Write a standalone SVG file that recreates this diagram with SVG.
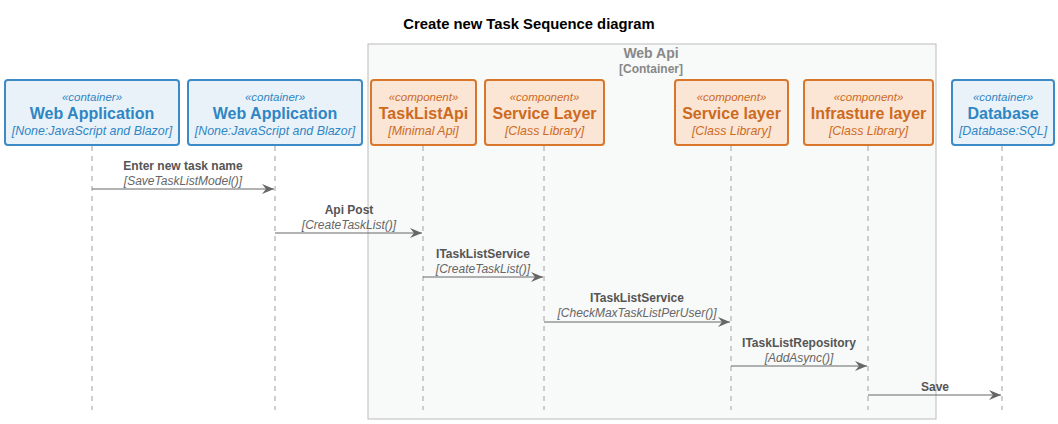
<svg xmlns="http://www.w3.org/2000/svg" width="1058" height="424" viewBox="0 0 1058 424">
<style>
text{font-family:"Liberation Sans",Arial,sans-serif;text-anchor:middle}
.title{font-size:14.8px;font-weight:bold;fill:#000}
.bl{font-size:14px;font-weight:bold;fill:#888}
.bs{font-size:12px;font-weight:bold;fill:#888}
.cont rect{fill:#EAF2F9;stroke:#3C8AC6;stroke-width:2}
.cont text{fill:#2E86C4}
.comp rect{fill:#FBE6D6;stroke:#D8772B;stroke-width:2}
.comp text{fill:#CD6A1E}
.st{font-size:11.5px;font-style:italic}
.nm{font-size:16px;font-weight:bold}
.tc{font-size:12.4px;font-style:italic}
.life{stroke:#A0A0A0;stroke-width:1;stroke-dasharray:5,5}
.msg{stroke:#666;stroke-width:1;fill:none}
.ml{font-size:12px;font-weight:bold;fill:#555}
.mt{font-size:12px;font-style:italic;fill:#666}
</style>
<defs>
<marker id="ah" markerWidth="13" markerHeight="10" refX="12" refY="5" orient="auto" markerUnits="userSpaceOnUse">
<path d="M0,0 L12,5 L0,10 L4,5 Z" fill="#666"/>
</marker>
</defs>
<rect width="1058" height="424" fill="#fff"/>
<text class="title" x="529" y="29">Create new Task Sequence diagram</text>
<g id="boundary">
<rect x="368" y="44" width="568" height="375" fill="#F8F9F9" stroke="#BBBBBB" stroke-width="1"/>
<text class="bl" x="651" y="58">Web Api</text>
<text class="bs" x="651" y="73">[Container]</text>
</g>
<g id="lifelines">
<line class="life" x1="92" y1="146" x2="92" y2="410"/>
<line class="life" x1="275" y1="146" x2="275" y2="410"/>
<line class="life" x1="423" y1="146" x2="423" y2="410"/>
<line class="life" x1="544" y1="146" x2="544" y2="410"/>
<line class="life" x1="731" y1="146" x2="731" y2="410"/>
<line class="life" x1="868" y1="146" x2="868" y2="410"/>
<line class="life" x1="1002" y1="146" x2="1002" y2="410"/>
</g>
<g id="webapp1" class="cont">
<rect x="5" y="80" width="174" height="65" rx="3"/>
<text class="st" x="92" y="101">«container»</text>
<text class="nm" x="92" y="119">Web Application</text>
<text class="tc" x="92" y="135">[None:JavaScript and Blazor]</text>
</g>
<g id="webapp2" class="cont">
<rect x="188" y="80" width="174" height="65" rx="3"/>
<text class="st" x="275" y="101">«container»</text>
<text class="nm" x="275" y="119">Web Application</text>
<text class="tc" x="275" y="135">[None:JavaScript and Blazor]</text>
</g>
<g id="tasklistapi" class="comp">
<rect x="371" y="80" width="105" height="65" rx="3"/>
<text class="st" x="423.5" y="101">«component»</text>
<text class="nm" x="423.5" y="119">TaskListApi</text>
<text class="tc" x="423.5" y="135">[Minimal Api]</text>
</g>
<g id="servicelayer1" class="comp">
<rect x="485" y="80" width="119" height="65" rx="3"/>
<text class="st" x="544.5" y="101">«component»</text>
<text class="nm" x="544.5" y="119">Service Layer</text>
<text class="tc" x="544.5" y="135">[Class Library]</text>
</g>
<g id="servicelayer2" class="comp">
<rect x="675" y="80" width="113" height="65" rx="3"/>
<text class="st" x="731.5" y="101">«component»</text>
<text class="nm" x="731.5" y="119">Service layer</text>
<text class="tc" x="731.5" y="135">[Class Library]</text>
</g>
<g id="infrastructure" class="comp">
<rect x="804" y="80" width="129" height="65" rx="3"/>
<text class="st" x="868.5" y="101">«component»</text>
<text class="nm" x="868.5" y="119">Infrasture layer</text>
<text class="tc" x="868.5" y="135">[Class Library]</text>
</g>
<g id="database" class="cont">
<rect x="952" y="80" width="102" height="65" rx="3"/>
<text class="st" x="1003" y="101">«container»</text>
<text class="nm" x="1003" y="119">Database</text>
<text class="tc" x="1003" y="135">[Database:SQL]</text>
</g>
<g id="connectors">
<line class="msg" x1="92" y1="189" x2="274" y2="189" marker-end="url(#ah)"/>
<text class="ml" x="183" y="170">Enter new task name</text>
<text class="mt" x="183" y="185">[SaveTaskListModel()]</text>
<line class="msg" x1="275" y1="233" x2="422" y2="233" marker-end="url(#ah)"/>
<text class="ml" x="349" y="214">Api Post</text>
<text class="mt" x="349" y="229">[CreateTaskList()]</text>
<line class="msg" x1="423" y1="277" x2="543" y2="277" marker-end="url(#ah)"/>
<text class="ml" x="483" y="258">ITaskListService</text>
<text class="mt" x="483" y="273">[CreateTaskList()]</text>
<line class="msg" x1="544" y1="322" x2="730" y2="322" marker-end="url(#ah)"/>
<text class="ml" x="637" y="302">ITaskListService</text>
<text class="mt" x="637" y="317">[CheckMaxTaskListPerUser()]</text>
<line class="msg" x1="731" y1="366" x2="867" y2="366" marker-end="url(#ah)"/>
<text class="ml" x="799" y="347">ITaskListRepository</text>
<text class="mt" x="799" y="362">[AddAsync()]</text>
<line class="msg" x1="868" y1="395" x2="1001" y2="395" marker-end="url(#ah)"/>
<text class="ml" x="935" y="391">Save</text>
</g>
</svg>
